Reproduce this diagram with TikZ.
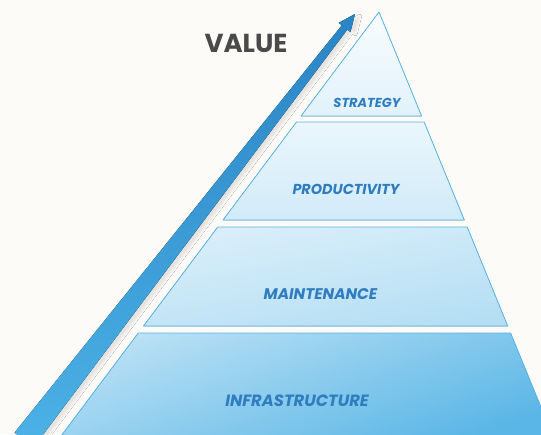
\documentclass[tikz,border=0pt]{standalone}
\usepackage{fontspec}
\newfontfamily\pyrfont{Poppins}
\usepackage{tikz}
\usetikzlibrary{calc,shadows.blur}

\definecolor{paper}{HTML}{FCFBF8}
\definecolor{edge}{HTML}{5AB6E6}
\definecolor{ink}{HTML}{2F7CBF}
\definecolor{grey}{HTML}{4A4A4A}
\definecolor{shaft}{HTML}{4CB2E6}
\definecolor{head}{HTML}{2A84C4}

\newcommand{\labsize}[1]{\pyrfont\bfseries\itshape\fontsize{#1}{#1}\selectfont}

\begin{document}
\begin{tikzpicture}
[
	              x = 1pt,
	              y = -1pt,
	   layer/.style = { draw=edge, line width=0.8pt, line join=round },
	   label/.style = { text=ink, inner sep=0pt },
	   arrow/.style = { top color=head, bottom color=shaft, draw=none,
	                    blur shadow={shadow xshift=5pt, shadow yshift=-2pt, shadow opacity=9, shadow blur steps=6} }
]
	\useasboundingbox (0,0) rectangle (541,434);
	\fill [paper] (0,0) rectangle (541,434);
	\clip (0,0) rectangle (541,434);

	% pyramid
	\coordinate (0) at (379,12);
	\filldraw [layer, top color=white!96!edge, bottom color=white!82!edge]
		(0) -- (421.6,116) -- (301,116) -- cycle;
	\filldraw [layer, top color=white!88!edge, bottom color=white!72!edge]
		(296.5,122) -- (424.1,122) -- (464.3,220) -- (223,220) -- cycle;
	\filldraw [layer, top color=white!78!edge, bottom color=white!55!edge, shading angle=10]
		(217.8,227) -- (467.2,227) -- (507.7,326) -- (143.5,326) -- cycle;
	\filldraw [layer, top color=white!58!edge, bottom color=edge, shading angle=20]
		(138.3,333) -- (510.6,333) -- (554.5,440) -- (58,440) -- cycle;

	\node (10) at (367,103)   [label, font=\labsize{13}]   {STRATEGY};
	\node (20) at (346,189)   [label, font=\labsize{14.4}] {PRODUCTIVITY};
	\node (30) at (320.5,294) [label, font=\labsize{15.4}] {MAINTENANCE};
	\node (40) at (297,401)   [label, font=\labsize{16.3}] {INFRASTRUCTURE};

	% value arrow
	\coordinate (1) at (355,14);
	\coordinate (2) at (24,440);
	\coordinate (3) at ($(1)!17pt!(2)$);
	\fill [arrow]
		($(2)!12pt!90:(1)$) -- ($(3)!3.5pt!90:(1)$) -- ($(3)!7.5pt!90:(1)$) -- (1)
		-- ($(3)!7.5pt!-90:(1)$) -- ($(3)!3.5pt!-90:(1)$) -- ($(2)!12pt!-90:(1)$) -- cycle;

	\node (5) at (246,43) [text=grey, font=\pyrfont\bfseries\fontsize{26}{28}\selectfont] {VALUE};

\end{tikzpicture}
\end{document}
